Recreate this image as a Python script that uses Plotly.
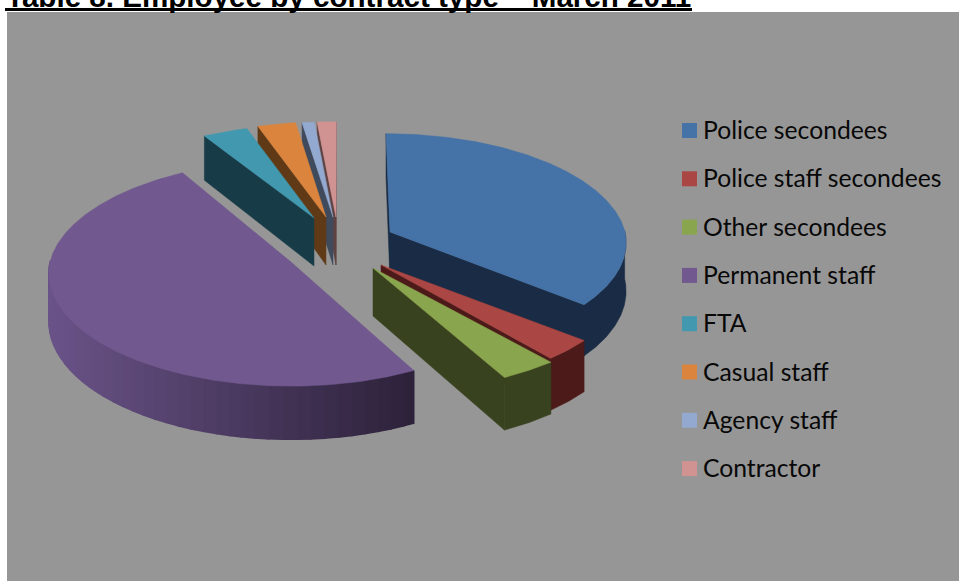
import numpy as np
import plotly.graph_objects as go

# ---- data (share of employees, %) ----
categories = ["Police secondees", "Police staff secondees", "Other secondees", "Permanent staff",
              "FTA", "Casual staff", "Agency staff", "Contractor"]
values = [35.9, 3.1, 3.3, 49.3, 3.3, 2.8, 0.9, 1.4]
title_text = "Table 8. Employee by contract type \u2013 March 2011"

# ---- styles ----
top_colors = ["#4572A7", "#AA4643", "#89A54E", "#71588F", "#4198AF", "#DB843D", "#93A9CF", "#D19392"]
wall_left = ["#1A2C45", "#4C1B19", "#38421E", "#6A5388", "#173C47", "#603A17", "#3F4A5C", "#5E4342"]
wall_right = ["#1A2C45", "#4C1B19", "#38421E", "#2C2139", "#173C47", "#603A17", "#3F4A5C", "#5E4342"]
cut_colors = ["#1A2C45", "#4C1B19", "#38421E", "#2C2139", "#173C47", "#603A17", "#3F4A5C", "#5E4342"]
draw_order = [7, 6, 5, 4, 0, 1, 2, 3]
# explosion of each slice, in pixels from the pie centre, and its radii
centre = (340.0, 250.0)
explode = [(50, -18), (41, 15), (33, 18), (-49, 12), (-26, -32), (-14, -33), (-7, -33), (-4, -33)]
radius_x = [235, 246, 258, 241, 240, 240, 240, 240]
radius_y = [108, 112, 113, 112, 103, 104.5, 104.5, 104.5]
persp = 0.098
depth = 48.0
strips = 40
legend_x = 689.5
legend_text_x = 703
legend_first_y = 130.5
legend_step = 48.3
legend_text_drop = 2.5


def project(slice_i, deg):
    th = np.radians(deg)
    u, v = np.sin(th), np.cos(th)
    w = 1 + persp * v
    ax = centre[0] + explode[slice_i][0]
    ay = centre[1] + explode[slice_i][1]
    x = ax + radius_x[slice_i] * u / w - (ax - 340) * 0.08 * np.maximum(v, 0)
    y = ay - radius_y[slice_i] * v / w
    return x, y, depth / w


def mix(c1, c2, t):
    a = [int(c1[i:i + 2], 16) for i in (1, 3, 5)]
    b = [int(c2[i:i + 2], 16) for i in (1, 3, 5)]
    return "rgb(%d,%d,%d)" % tuple(round(p + (q - p) * t) for p, q in zip(a, b))


fig = go.Figure()


def poly(xs, ys, color, lw=0.5):
    fig.add_trace(go.Scatter(x=list(xs), y=list(ys), mode="lines", fill="toself", fillcolor=color,
                             line=dict(color=color, width=lw), hoverinfo="skip", showlegend=False))


fractions = np.array(values) / sum(values)
edges = np.concatenate([[0], np.cumsum(fractions)]) * 360

for i in draw_order:
    a0, a1 = edges[i], edges[i + 1]
    ax = centre[0] + explode[i][0]
    ay = centre[1] + explode[i][1]
    ad = depth
    mx, my, _ = project(i, (a0 + a1) / 2)
    # straight cut faces, only those turned to the viewer
    for ang in (a0, a1):
        rx, ry, rd = project(i, ang)
        dx = rx - ax
        visible = False
        if abs(dx) > 1e-6:
            line_y = ay + (ry - ay) * (mx - ax) / dx
            visible = my < line_y
        if visible:
            poly([ax, rx, rx, ax, ax], [ay, ry, ry + rd, ay + ad, ay], cut_colors[i])
    # outer wall, front half only; shaded strips where the wall has a gradient
    angs = np.linspace(a0, a1, max(3, int((a1 - a0) * 2) + 2))
    angs = angs[np.cos(np.radians(angs)) <= 0.02]
    if len(angs) > 1:
        xs, ys, ds = project(i, angs)
        lo, hi = xs.min(), xs.max()
        n = 1 if wall_left[i] == wall_right[i] else min(strips, len(angs) - 1)
        idx = np.linspace(0, len(angs) - 1, n + 1).astype(int)
        for p, q in zip(idx[:-1], idx[1:]):
            seg = np.arange(p, q + 1)
            t = ((xs[seg].mean() - lo) / (hi - lo)) if hi > lo else 0
            poly(np.concatenate([xs[seg], xs[seg][::-1], xs[seg][:1]]),
                 np.concatenate([ys[seg], (ys + ds)[seg][::-1], ys[seg][:1]]),
                 mix(wall_left[i], wall_right[i], t), lw=1.5 if n > 1 else 0.5)
    # top face
    angs = np.linspace(a0, a1, max(3, int(a1 - a0) * 2))
    xs, ys, _ = project(i, angs)
    poly(np.concatenate([[ax], xs, [ax]]), np.concatenate([[ay], ys, [ay]]), top_colors[i])

# key: one swatch per category and its label
rows = [legend_first_y + legend_step * k for k in range(len(categories))]
fig.add_trace(go.Scatter(x=[legend_x] * len(rows), y=rows, mode="markers", showlegend=False, hoverinfo="skip",
                         marker=dict(symbol="square", size=15, color=top_colors)))
fig.add_trace(go.Scatter(x=[legend_text_x] * len(rows), y=[r + legend_text_drop for r in rows], mode="text",
                         text=categories, textposition="middle right", showlegend=False, hoverinfo="skip",
                         textfont=dict(family="Lato", size=24.7, color="#080808")))

fig.update_layout(
    width=959, height=581, margin=dict(l=0, r=0, t=0, b=0),
    paper_bgcolor="white", plot_bgcolor="rgba(0,0,0,0)", showlegend=False,
    xaxis=dict(range=[0, 959], visible=False, fixedrange=True),
    yaxis=dict(range=[581, 0], visible=False, fixedrange=True),
    shapes=[
        dict(type="rect", xref="x", yref="y", x0=7, x1=959, y0=12, y1=581, layer="below",
             fillcolor="#969696", line=dict(width=0)),
        dict(type="rect", xref="x", yref="y", x0=5, x1=692, y0=8, y1=11, layer="below",
             fillcolor="black", line=dict(width=0)),
    ],
    annotations=[dict(text="<b>%s</b>" % title_text, x=5, y=14, xref="x", yref="y", xanchor="left",
                      yanchor="bottom", showarrow=False, borderpad=0,
                      font=dict(family="Liberation Sans", size=29.6, color="black"))],
)
fig.write_html("out.html", config={"displayModeBar": False}, post_script="document.body.style.margin='0';")
